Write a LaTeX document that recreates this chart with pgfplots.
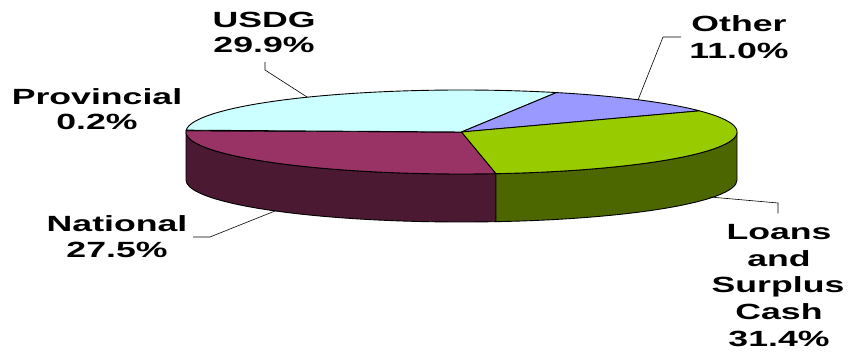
\documentclass[border=0pt]{standalone}
\usepackage{pgfplots}
\pgfplotsset{compat=1.18}
\usepackage{pgfplotstable}
\usepackage{fontspec}
\setmainfont{Liberation Sans}
\newfontfamily\lab[FakeStretch=1.62]{Liberation Sans}
\newcommand\lf{\lab\bfseries\fontsize{22bp}{26bp}\selectfont}

\definecolor{cusdg}{HTML}{CCFFFF}
\definecolor{cother}{HTML}{9999FF}
\definecolor{cloans}{HTML}{99CC00}
\definecolor{cnat}{HTML}{993366}
\definecolor{cprov}{HTML}{FFFFCC}
\definecolor{cnatside}{HTML}{4C1933}
\definecolor{cloanside}{HTML}{4C6600}

% shares in percent, clockwise from the left edge
\pgfplotstableread{
name value
Provincial 0.2
USDG 29.9
Other 11.0
Loans 31.4
National 27.5
}\piedata
\pgfplotstablegetelem{0}{value}\of\piedata \let\vP\pgfplotsretval
\pgfplotstablegetelem{1}{value}\of\piedata \let\vU\pgfplotsretval
\pgfplotstablegetelem{2}{value}\of\piedata \let\vO\pgfplotsretval
\pgfplotstablegetelem{3}{value}\of\piedata \let\vL\pgfplotsretval
\pgfplotstablegetelem{4}{value}\of\piedata \let\vN\pgfplotsretval

\pgfmathsetmacro\aP{178.2}
\pgfmathsetmacro\aU{\aP-3.6*\vP}
\pgfmathsetmacro\aO{\aU-3.6*\vU}
\pgfmathsetmacro\aL{\aO-3.6*\vO}
\pgfmathsetmacro\aN{\aL-3.6*\vL}
\pgfmathsetmacro\aE{\aN-3.6*\vN}

\def\cx{461.5}
\def\cy{224}
\def\rx{275.5}
\def\ry{42}
\def\dd{48}
\pgfmathsetmacro\xN{\cx+\rx*cos(\aN)}
\pgfmathsetmacro\yN{\cy+\ry*sin(\aN)-\dd}
\pgfmathsetmacro\xR{\cx+\rx}
\pgfmathsetmacro\yR{\cy-\dd}

\begin{document}
\begin{tikzpicture}
\begin{axis}[width=848bp,height=356bp,scale only axis,
  xmin=0,xmax=848,ymin=0,ymax=356,axis lines=none,clip=false]
% front sides
\addplot[fill=cnatside,draw=black,line width=0.9bp,line join=round,domain=-180:\aN,samples=80,variable=\t]
  ({\cx+\rx*cos(\t)},{\cy+\ry*sin(\t)}) -- (axis cs:\xN,\yN)
  arc[start angle=\aN,end angle=-180,x radius=\rx bp,y radius=\ry bp] -- cycle;
\addplot[fill=cloanside,draw=black,line width=0.9bp,line join=round,domain=\aN:0,samples=80,variable=\t]
  ({\cx+\rx*cos(\t)},{\cy+\ry*sin(\t)}) -- (axis cs:\xR,\yR)
  arc[start angle=0,end angle=\aN,x radius=\rx bp,y radius=\ry bp] -- cycle;
% top slices
\addplot[fill=cnat,draw=black,line width=0.9bp,line join=round,domain=\aE:\aN,samples=80,variable=\t]
  ({\cx+\rx*cos(\t)},{\cy+\ry*sin(\t)}) -- (axis cs:\cx,\cy) -- cycle;
\addplot[fill=cprov,draw=black,line width=0.9bp,line join=round,domain=\aU:\aP,samples=5,variable=\t]
  ({\cx+\rx*cos(\t)},{\cy+\ry*sin(\t)}) -- (axis cs:\cx,\cy) -- cycle;
\addplot[fill=cusdg,draw=black,line width=0.9bp,line join=round,domain=\aO:\aU,samples=80,variable=\t]
  ({\cx+\rx*cos(\t)},{\cy+\ry*sin(\t)}) -- (axis cs:\cx,\cy) -- cycle;
\addplot[fill=cother,draw=black,line width=0.9bp,line join=round,domain=\aL:\aO,samples=40,variable=\t]
  ({\cx+\rx*cos(\t)},{\cy+\ry*sin(\t)}) -- (axis cs:\cx,\cy) -- cycle;
\addplot[fill=cloans,draw=black,line width=0.9bp,line join=round,domain=\aN:\aL,samples=80,variable=\t]
  ({\cx+\rx*cos(\t)},{\cy+\ry*sin(\t)}) -- (axis cs:\cx,\cy) -- cycle;

% leader lines
\draw[black,line width=0.6bp] (axis cs:265,294) -- (axis cs:265,286) -- (axis cs:307,259);
\draw[black,line width=0.6bp] (axis cs:681,319) -- (axis cs:663,319) -- (axis cs:638,256);
\draw[black,line width=0.6bp] (axis cs:193,119) -- (axis cs:210,119) -- (axis cs:275,145);
\draw[black,line width=0.6bp] (axis cs:710,159) -- (axis cs:778,153) -- (axis cs:778,142.5);

% labels
\tikzset{lbl/.style={font=\lf,anchor=base,inner sep=0pt}}
\node[lbl] at (axis cs:264,328) {USDG};
\node[lbl] at (axis cs:264,303) {29.9\%};
\node[lbl] at (axis cs:739,324) {Other};
\node[lbl] at (axis cs:739,297) {11.0\%};
\node[lbl] at (axis cs:97,251) {Provincial};
\node[lbl] at (axis cs:97,226) {0.2\%};
\node[lbl] at (axis cs:117,124) {National};
\node[lbl] at (axis cs:117,98) {27.5\%};
\node[lbl] at (axis cs:779,116) {Loans};
\node[lbl] at (axis cs:779,89.5) {and};
\node[lbl] at (axis cs:778,63) {Surplus};
\node[lbl] at (axis cs:779,36.5) {Cash};
\node[lbl] at (axis cs:779,10) {31.4\%};
\end{axis}
\pgfresetboundingbox
\path[use as bounding box] (0,0) rectangle (848bp,356bp);
\end{tikzpicture}
\end{document}
